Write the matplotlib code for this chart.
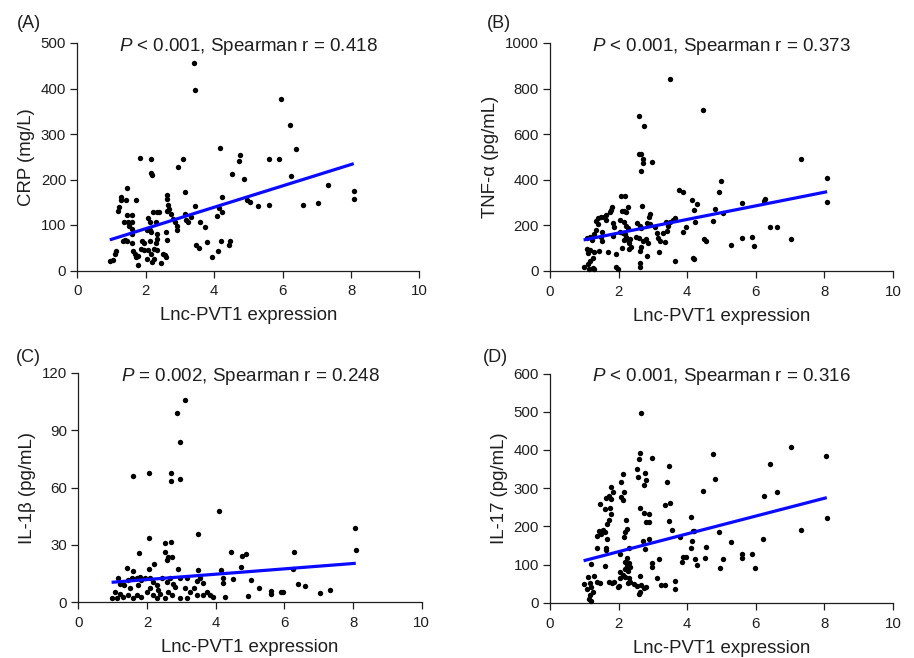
import matplotlib
matplotlib.use("Agg")
import matplotlib.pyplot as plt

plt.rcParams['font.family'] = ['Liberation Sans', 'DejaVu Sans']
plt.rcParams['mathtext.fontset'] = 'custom'
plt.rcParams['mathtext.it'] = 'Liberation Sans:italic'
plt.rcParams['mathtext.rm'] = 'Liberation Sans'

# ---------------- data ----------------
a_x = [3.40, 3.44, 4.17, 1.82, 2.16, 3.08, 2.95, 4.76, 4.72, 2.16, 2.18, 4.51, 4.87, 1.44, 3.15,
       1.29, 1.27, 1.43, 1.72, 2.62, 2.63, 4.22, 4.97, 5.04, 1.22, 1.19, 2.66, 2.69, 2.62, 2.74,
       3.45, 4.13, 4.24, 1.45, 1.59, 2.21, 2.33, 2.38, 3.15, 2.08, 2.11, 2.29, 1.37, 1.48, 1.59,
       2.81, 2.85, 3.32, 3.18, 3.23, 3.59, 4.08, 1.51, 1.59, 2.91, 2.91, 3.73, 2.03, 2.11, 2.16,
       2.34, 2.58, 1.60, 1.39, 1.34, 1.45, 1.59, 1.88, 1.96, 2.34, 2.30, 2.62, 2.11, 3.48, 3.56,
       3.80, 4.20, 4.46, 4.43, 1.14, 1.09, 1.03, 0.95, 1.63, 1.69, 1.72, 1.78, 1.78, 1.87, 1.94,
       2.07, 2.16, 2.23, 2.33, 2.05, 2.23, 2.50, 2.55, 2.60, 2.46, 2.19, 4.12, 3.93, 5.96, 6.22,
       6.40, 5.61, 5.90, 6.25, 7.32, 5.27, 5.61, 6.61, 7.03, 8.08, 8.08]
a_y = [455, 396, 270, 248, 244, 246, 228, 253, 240, 214, 210, 211, 201, 182, 172,
       162, 154, 156, 154, 165, 158, 162, 154, 151, 139, 131, 143, 136, 131, 125,
       142, 138, 128, 123, 123, 128, 128, 128, 125, 115, 106, 106, 106, 106, 106,
       114, 106, 117, 110, 106, 106, 119, 97, 92, 97, 90, 95, 90, 88, 84,
       81, 84, 81, 66, 64, 64, 61, 65, 61, 69, 60, 68, 65, 57, 50,
       62, 65, 65, 56, 43, 37, 22, 21, 43, 37, 29, 31, 13, 48, 46,
       44, 37, 48, 46, 26, 26, 37, 33, 29, 16, 18, 42, 29, 378, 319,
       266, 244, 244, 208, 189, 141, 143, 145, 149, 174, 158]

b_x = [3.51, 4.47, 2.59, 2.75, 2.60, 2.66, 2.70, 2.72, 2.98, 2.64, 3.76, 3.87, 4.98, 4.93, 4.15,
       4.29, 4.21, 4.81, 2.08, 2.20, 2.69, 1.80, 1.78, 1.74, 1.63, 1.56, 2.10, 2.15, 2.26, 2.22,
       1.49, 1.41, 1.34, 1.39, 1.63, 2.93, 2.88, 3.64, 3.59, 3.49, 1.84, 1.87, 2.05, 2.17, 2.21,
       2.27, 2.54, 2.61, 2.66, 2.83, 2.93, 3.07, 3.37, 3.45, 3.41, 3.97, 3.88, 4.24, 4.76, 1.35,
       1.27, 1.17, 1.22, 1.07, 1.52, 1.49, 1.51, 1.83, 2.05, 2.13, 2.20, 2.22, 2.17, 2.28, 2.34,
       2.29, 2.36, 2.29, 2.50, 2.60, 2.72, 2.80, 2.85, 2.66, 2.61, 2.83, 3.12, 3.14, 3.22, 3.28,
       3.35, 4.49, 4.54, 1.07, 1.17, 1.12, 1.27, 1.44, 1.24, 1.17, 1.10, 1.24, 1.14, 0.98, 1.27,
       1.69, 1.92, 2.09, 3.17, 2.63, 2.63, 1.93, 1.98, 3.64, 4.17, 4.20, 7.33, 8.08, 8.07, 5.03,
       5.61, 6.24, 6.27, 6.40, 6.61, 5.27, 5.61, 5.90, 5.96, 7.03]
b_y = [841, 705, 679, 637, 515, 512, 493, 472, 477, 438, 355, 345, 396, 345, 311,
       296, 267, 272, 331, 331, 286, 282, 267, 260, 245, 238, 264, 264, 279, 257,
       238, 231, 220, 206, 223, 250, 235, 231, 222, 216, 212, 194, 223, 216, 199,
       187, 209, 199, 190, 212, 206, 194, 216, 197, 177, 194, 172, 216, 220, 180,
       164, 150, 137, 143, 169, 150, 131, 153, 172, 168, 161, 150, 136, 136, 139,
       121, 107, 95, 150, 145, 130, 139, 121, 107, 89, 67, 165, 146, 131, 165,
       128, 139, 131, 95, 92, 77, 82, 86, 55, 42, 31, 15, 7, 16, 7,
       82, 74, 99, 82, 34, 19, 16, 7, 44, 55, 51, 491, 406, 304, 256,
       299, 308, 314, 194, 194, 114, 146, 150, 111, 139]

c_x = [3.11, 2.88, 2.96, 1.60, 2.05, 2.70, 2.71, 2.96, 4.11, 2.06, 2.53, 2.69, 3.48, 1.77, 2.53,
       2.60, 2.59, 2.73, 2.19, 2.06, 1.43, 1.60, 4.46, 4.78, 4.88, 4.74, 2.90, 3.50, 4.15,
       1.17, 1.21, 1.34, 1.46, 1.55, 1.70, 1.80, 1.84, 1.94, 2.09, 2.18, 2.28, 2.43, 2.57, 2.67,
       2.77, 2.96, 3.16, 3.45, 3.54, 3.64, 4.22, 4.20, 4.51, 0.97, 1.12, 1.21, 1.31, 1.46, 1.60,
       1.70, 1.84, 1.99, 2.09, 2.18, 2.28, 2.38, 2.52, 2.62, 2.72, 2.82, 2.96, 3.16, 3.25, 3.37,
       3.45, 3.64, 3.74, 3.83, 3.93, 4.27, 4.95, 1.07, 1.50, 1.75, 2.33, 3.11,
       8.07, 8.08, 6.27, 6.24, 5.04, 5.27, 5.61, 5.61, 5.90, 5.96, 6.40, 6.61, 7.03, 7.32]
c_y = [106, 99, 84, 66, 67.5, 67.5, 63.5, 64.5, 47.8, 33.8, 30.9, 31.7, 35.6, 26, 26.2,
       23.7, 22.1, 23.7, 19.9, 17.4, 17.8, 16.4, 26.3, 24.2, 25.5, 18.7, 17.4, 16.9, 16.9,
       12.6, 9.4, 9.1, 11.7, 12.6, 12.6, 13.4, 11.7, 12.6, 12.9, 10.8, 9.1, 12.6, 10.8, 12.6,
       9.4, 12.6, 12.6, 11.2, 12.6, 9.9, 12.6, 9.9, 12.0, 2.4, 2.4, 4.2, 3.0, 3.8, 2.1,
       3.8, 3.0, 5.6, 7.3, 3.8, 2.4, 4.2, 2.1, 5.6, 3.8, 8.2, 2.1, 2.4, 5.6, 7.3,
       3.8, 3.8, 5.6, 3.8, 3.0, 3.0, 3.5, 5.6, 7.3, 9.1, 6.5, 7.3,
       39.1, 27.4, 26.5, 17.4, 11.7, 7.7, 6.1, 4.2, 5.6, 5.6, 9.8, 8.5, 4.9, 6.5]

d_x = [2.66, 2.63, 2.60, 2.98, 2.54, 2.57, 2.78, 2.81, 2.75, 3.48, 3.42, 4.76, 4.80, 4.47, 2.12,
       2.08, 2.15, 2.07, 2.13, 1.79, 1.83, 1.73, 1.78, 1.62, 1.46, 1.61, 1.74, 1.78, 1.71, 1.66,
       2.22, 2.24, 2.20, 2.15, 2.61, 2.73, 2.88, 2.80, 2.90, 3.35, 3.51, 3.47, 3.56, 4.12, 4.17,
       4.21, 4.15, 4.12, 3.79, 4.93, 1.44, 1.54, 1.37, 1.50, 1.61, 1.66, 1.37, 1.62, 1.63, 2.88,
       2.70, 2.76, 2.31, 2.05, 2.24, 1.19, 1.59, 4.54, 4.52, 3.88, 3.97, 3.85, 4.24, 4.29, 3.17,
       2.96, 2.96, 4.95,
       2.20, 2.29, 2.24, 2.34, 2.20, 2.27, 2.05, 2.13, 2.05, 2.20, 2.29, 2.34, 2.26, 2.44, 2.54,
       2.63, 2.65, 2.73, 2.81, 2.59, 2.63, 1.71, 1.80, 1.87, 2.00, 1.98, 0.98, 1.12, 1.27, 1.37,
       1.46, 1.17, 1.19, 1.07, 1.25, 1.17, 1.14, 1.19, 3.12, 3.25, 3.36, 3.64, 3.64,
       7.03, 8.06, 6.40, 6.61, 6.25, 8.07, 7.32, 5.27, 6.22, 5.03, 5.60, 5.60, 5.90, 5.97]
d_y = [497, 393, 375, 378, 349, 328, 340, 321, 308, 359, 316, 388, 325, 293, 336,
       315, 291, 277, 270, 304, 290, 280, 271, 275, 259, 245, 247, 232, 216, 206,
       216, 193, 186, 173, 247, 234, 232, 212, 212, 256, 262, 214, 190, 225, 188,
       188, 162, 144, 173, 186, 188, 190, 175, 179, 186, 168, 144, 144, 138, 166,
       161, 140, 142, 127, 116, 101, 96, 147, 116, 120, 120, 106, 114, 99, 114,
       103, 94, 92,
       107, 103, 97, 94, 88, 83, 81, 72, 64, 68, 64, 55, 51, 48, 45,
       70, 46, 38, 42, 24, 29, 55, 51, 55, 45, 42, 49, 68, 71, 55,
       51, 51, 42, 36, 29, 20, 10, 4, 65, 46, 46, 57, 36,
       408, 385, 363, 289, 279, 223, 191, 158, 166, 114, 127, 116, 128, 91]

# regression lines (intercept, slope)
fit_a = (45.0, 23.5)
fit_b = (107.0, 29.8)
fit_c = (9.1, 1.40)
fit_d = (87.0, 23.3)

panel_letters = ["(A)", "(B)", "(C)", "(D)"]
stats_text = ["$P$ < 0.001, Spearman r = 0.418",
              "$P$ < 0.001, Spearman r = 0.373",
              "$P$ = 0.002, Spearman r = 0.248",
              "$P$ < 0.001, Spearman r = 0.316"]
y_labels = ["CRP (mg/L)", "TNF-α (pg/mL)", "IL-1β (pg/mL)", "IL-17 (pg/mL)"]
x_label = "Lnc-PVT1 expression"
x_ticks = [0, 2, 4, 6, 8, 10]
y_ticks = [[0, 100, 200, 300, 400, 500],
           [0, 200, 400, 600, 800, 1000],
           [0, 30, 60, 90, 120],
           [0, 100, 200, 300, 400, 500, 600]]

# ---------------- figure ----------------
W, H = 914, 658
fig = plt.figure(figsize=(W / 100, H / 100), dpi=100)

# axes boxes in pixels: (x0, x10, y_top, y_bottom)
boxes = [(77.3, 419.5, 43, 270.5), (550, 893, 43, 271),
         (78.3, 421.7, 373, 602.3), (550, 893, 373.5, 602.7)]
letter_pos = [(17, 24), (487, 24), (16, 358), (483, 358)]

xs = [a_x, b_x, c_x, d_x]
ys = [a_y, b_y, c_y, d_y]
fits = [fit_a, fit_b, fit_c, fit_d]

ink = '#1e1e1e'
for i in range(4):
    x0, x1, yt, yb = boxes[i]
    ax = fig.add_axes([x0 / W, 1 - yb / H, (x1 - x0) / W, (yb - yt) / H])
    ax.scatter(xs[i], ys[i], s=15, color='black', linewidths=0, zorder=3, clip_on=False)
    xmin, xmax = min(xs[i]), max(xs[i])
    b0, b1 = fits[i]
    ax.plot([xmin, xmax], [b0 + b1 * xmin, b0 + b1 * xmax], color='#0a0aff', lw=2.3, zorder=4,
            solid_capstyle='butt')
    ax.set_xlim(0, 10)
    ax.set_ylim(y_ticks[i][0], y_ticks[i][-1])
    ax.set_xticks(x_ticks)
    ax.set_yticks(y_ticks[i])
    for s in ['top', 'right']:
        ax.spines[s].set_visible(False)
    for s in ['left', 'bottom']:
        ax.spines[s].set_linewidth(0.9)
        ax.spines[s].set_color(ink)
    ax.tick_params(direction='out', length=5, width=0.9, labelsize=10.8, colors=ink,
                   labelcolor=ink)
    ax.tick_params(axis='x', pad=5)
    ax.tick_params(axis='y', pad=3)
    ax.set_xlabel(x_label, fontsize=13.4, labelpad=6.5, color=ink)
    ax.set_ylabel(y_labels[i], fontsize=13.4, labelpad=4, color=ink)
    ax.text(0.5, 0.985, stats_text[i], transform=ax.transAxes, ha='center', va='center',
            fontsize=13.5, color=ink)
    lx, ly = letter_pos[i]
    fig.text(lx / W, 1 - ly / H, panel_letters[i], ha='left', va='center', fontsize=13,
             color=ink)

fig.savefig("out.png", dpi=100)
